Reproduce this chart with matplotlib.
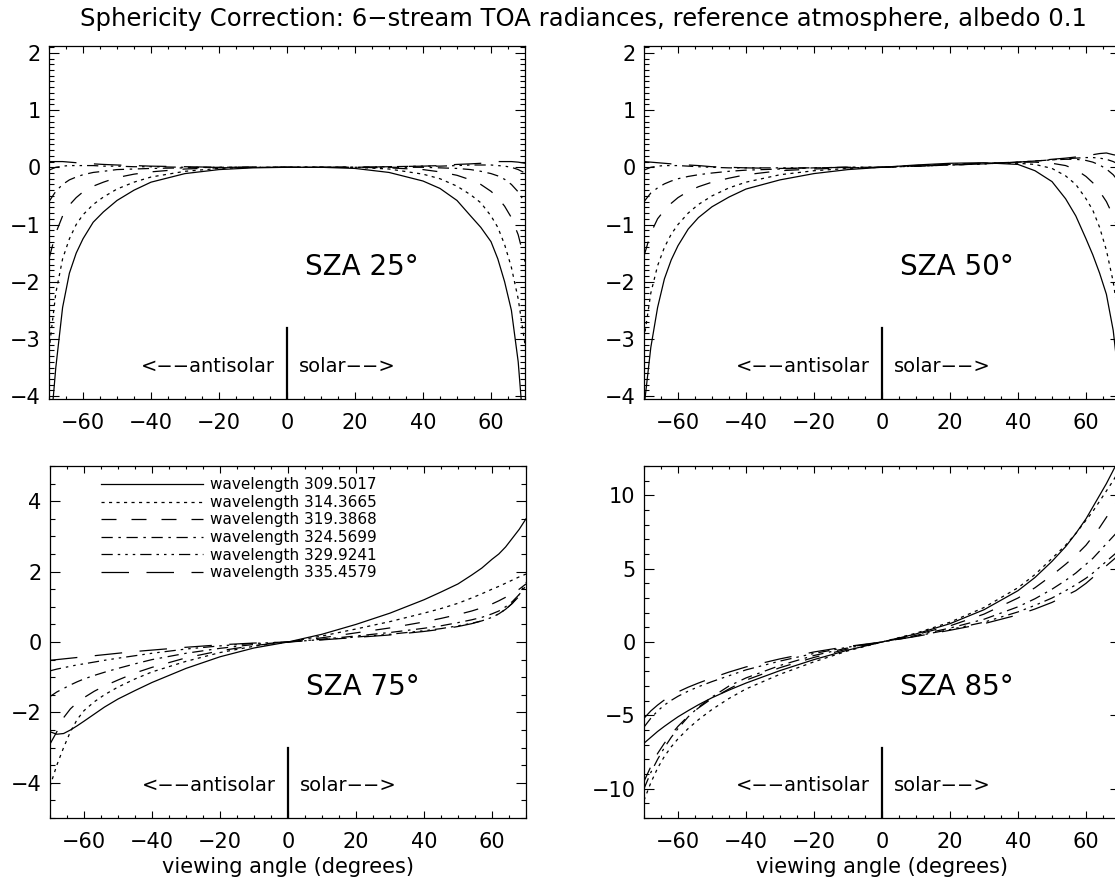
import matplotlib
matplotlib.use("Agg")
import matplotlib.pyplot as plt
from matplotlib.ticker import MultipleLocator

# viewing angles (degrees), negative = antisolar side
angles = [-70, -68, -66, -64, -62, -60, -57, -54, -50, -45, -40, -30, -20, -10, 0,
          10, 20, 30, 40, 45, 50, 54, 57, 60, 62, 64, 66, 68, 70]

wavelengths = ["309.5017", "314.3665", "319.3868", "324.5699", "329.9241", "335.4579"]
sza_labels = ["25", "50", "75", "85"]

# sphericity correction, one row per wavelength
sza25 = [
    [-4.9, -3.5, -2.45, -1.85, -1.5, -1.25, -0.96, -0.78, -0.58, -0.4, -0.26, -0.11, -0.04, -0.01, 0,
     0, -0.02, -0.09, -0.24, -0.37, -0.58, -0.85, -1.05, -1.3, -1.6, -2.0, -2.5, -3.4, -4.9],
    [-3.2, -2.2, -1.6, -1.25, -1.0, -0.83, -0.65, -0.52, -0.38, -0.26, -0.17, -0.07, -0.02, 0, 0,
     0, 0, -0.03, -0.12, -0.2, -0.33, -0.48, -0.62, -0.85, -1.05, -1.35, -1.75, -2.3, -3.1],
    [-1.6, -1.15, -0.85, -0.66, -0.53, -0.43, -0.33, -0.26, -0.18, -0.12, -0.08, -0.03, -0.01, 0, 0,
     0, 0, -0.01, -0.04, -0.08, -0.14, -0.22, -0.3, -0.42, -0.53, -0.68, -0.88, -1.18, -1.65],
    [-0.6, -0.42, -0.3, -0.22, -0.17, -0.13, -0.09, -0.07, -0.04, -0.03, -0.02, -0.01, 0, 0, 0,
     0, 0, 0, 0, -0.01, -0.02, -0.04, -0.07, -0.11, -0.15, -0.21, -0.3, -0.43, -0.62],
    [-0.05, 0.0, 0.02, 0.03, 0.03, 0.03, 0.03, 0.02, 0.02, 0.01, 0.01, 0, 0, 0, 0,
     0, 0, 0.01, 0.02, 0.02, 0.03, 0.04, 0.04, 0.04, 0.03, 0.02, 0.0, -0.04, -0.1],
    [0.1, 0.1, 0.1, 0.09, 0.08, 0.07, 0.06, 0.05, 0.04, 0.03, 0.02, 0.01, 0, 0, 0,
     0, 0, 0.01, 0.02, 0.03, 0.05, 0.06, 0.07, 0.09, 0.1, 0.1, 0.1, 0.09, 0.07],
]
sza50 = [
    [-4.2, -3.15, -2.45, -1.95, -1.62, -1.37, -1.08, -0.88, -0.69, -0.52, -0.38, -0.22, -0.11, -0.04, 0,
     0.04, 0.07, 0.08, 0.05, -0.06, -0.25, -0.55, -0.85, -1.25, -1.53, -1.85, -2.22, -2.85, -3.9],
    [-3.0, -2.2, -1.72, -1.4, -1.17, -1.0, -0.8, -0.65, -0.5, -0.36, -0.26, -0.13, -0.06, -0.02, 0,
     0.03, 0.05, 0.07, 0.07, 0.05, -0.02, -0.15, -0.3, -0.55, -0.75, -1.05, -1.45, -2.0, -2.8],
    [-1.55, -1.15, -0.9, -0.75, -0.63, -0.53, -0.42, -0.34, -0.26, -0.19, -0.13, -0.06, -0.03, -0.01, 0,
     0.03, 0.05, 0.07, 0.09, 0.09, 0.07, 0.03, -0.04, -0.16, -0.27, -0.42, -0.6, -0.85, -1.2],
    [-0.6, -0.45, -0.36, -0.29, -0.24, -0.2, -0.16, -0.13, -0.1, -0.07, -0.05, -0.03, -0.01, 0, 0,
     0.02, 0.04, 0.06, 0.09, 0.11, 0.13, 0.14, 0.14, 0.12, 0.09, 0.04, -0.03, -0.13, -0.28],
    [-0.05, 0.0, 0.02, 0.03, 0.03, 0.03, 0.02, 0.01, 0.0, -0.01, -0.01, -0.01, -0.01, 0, 0,
     0.02, 0.04, 0.06, 0.09, 0.11, 0.13, 0.15, 0.16, 0.17, 0.17, 0.16, 0.14, 0.1, 0.04],
    [0.1, 0.09, 0.08, 0.07, 0.06, 0.05, 0.04, 0.03, 0.01, 0.0, -0.01, -0.02, -0.01, 0, 0,
     0.02, 0.04, 0.06, 0.09, 0.11, 0.14, 0.16, 0.18, 0.2, 0.22, 0.24, 0.25, 0.22, 0.2],
]
sza75 = [
    [-2.55, -2.62, -2.6, -2.5, -2.38, -2.25, -2.05, -1.85, -1.62, -1.38, -1.15, -0.75, -0.42, -0.17, 0,
     0.22, 0.5, 0.82, 1.2, 1.42, 1.65, 1.9, 2.1, 2.35, 2.5, 2.7, 2.95, 3.2, 3.5],
    [-4.1, -3.5, -3.0, -2.55, -2.2, -1.95, -1.7, -1.5, -1.28, -1.05, -0.85, -0.55, -0.3, -0.12, 0,
     0.17, 0.37, 0.58, 0.82, 0.95, 1.1, 1.25, 1.37, 1.5, 1.58, 1.67, 1.76, 1.85, 1.93],
    [-2.9, -2.55, -2.15, -1.9, -1.72, -1.58, -1.4, -1.25, -1.08, -0.88, -0.72, -0.45, -0.25, -0.1, 0,
     0.12, 0.26, 0.4, 0.57, 0.67, 0.78, 0.88, 0.97, 1.08, 1.17, 1.27, 1.38, 1.5, 1.65],
    [-1.55, -1.42, -1.32, -1.22, -1.13, -1.05, -0.95, -0.86, -0.75, -0.62, -0.5, -0.32, -0.18, -0.07, 0,
     0.08, 0.17, 0.27, 0.39, 0.46, 0.55, 0.63, 0.7, 0.8, 0.88, 1.0, 1.15, 1.35, 1.7],
    [-0.82, -0.77, -0.73, -0.69, -0.65, -0.62, -0.57, -0.52, -0.46, -0.39, -0.32, -0.2, -0.11, -0.04, 0,
     0.07, 0.14, 0.22, 0.32, 0.38, 0.46, 0.53, 0.6, 0.7, 0.8, 0.93, 1.1, 1.35, 1.6],
    [-0.52, -0.5, -0.48, -0.46, -0.44, -0.42, -0.39, -0.36, -0.32, -0.27, -0.23, -0.15, -0.08, -0.03, 0,
     0.06, 0.13, 0.2, 0.3, 0.36, 0.44, 0.52, 0.6, 0.7, 0.8, 0.93, 1.1, 1.3, 1.55],
]
sza85 = [
    [-6.9, -6.5, -6.1, -5.75, -5.42, -5.1, -4.68, -4.28, -3.8, -3.28, -2.8, -1.95, -1.2, -0.55, 0,
     0.55, 1.25, 2.2, 3.5, 4.4, 5.5, 6.5, 7.4, 8.4, 9.2, 10.0, 10.8, 11.7, 12.6],
    [-10.8, -9.6, -8.6, -7.8, -7.15, -6.6, -5.9, -5.3, -4.6, -3.85, -3.2, -2.2, -1.35, -0.6, 0,
     0.6, 1.35, 2.35, 3.7, 4.6, 5.7, 6.6, 7.4, 8.3, 8.9, 9.6, 10.3, 11.0, 11.8],
    [-9.5, -8.5, -7.6, -6.9, -6.3, -5.75, -5.05, -4.5, -3.85, -3.2, -2.6, -1.75, -1.05, -0.47, 0,
     0.5, 1.1, 1.9, 3.0, 3.7, 4.55, 5.3, 5.9, 6.6, 7.2, 7.8, 8.5, 9.2, 9.9],
    [-10.0, -8.9, -8.0, -7.2, -6.5, -5.9, -5.1, -4.45, -3.75, -3.0, -2.45, -1.6, -0.92, -0.4, 0,
     0.45, 0.95, 1.55, 2.4, 2.95, 3.6, 4.2, 4.7, 5.3, 5.7, 6.2, 6.7, 7.2, 7.7],
    [-5.8, -5.2, -4.7, -4.3, -3.98, -3.7, -3.35, -3.05, -2.7, -2.3, -1.9, -1.3, -0.78, -0.35, 0,
     0.4, 0.85, 1.35, 2.05, 2.5, 3.0, 3.5, 3.9, 4.35, 4.7, 5.1, 5.5, 5.9, 6.3],
    [-5.2, -4.7, -4.3, -3.95, -3.65, -3.4, -3.08, -2.8, -2.45, -2.05, -1.7, -1.15, -0.68, -0.3, 0,
     0.38, 0.8, 1.25, 1.85, 2.25, 2.7, 3.15, 3.5, 4.0, 4.4, 4.8, 5.2, 5.6, 6.0],
]

# IDL-like linestyles: solid, dotted, dashed, dash-dot, dash-dot-dot-dot, long dashes
styles = ["-", (0, (2.5, 3.5)), (0, (12, 12)), (0, (9, 4.5, 2, 4.5)),
          (0, (9, 4, 2, 4, 2, 4, 2, 4)), (0, (22, 14))]

plt.rcParams["font.family"] = ["DejaVu Sans"]
fig = plt.figure(figsize=(11.15, 8.86), dpi=100)

W, H = 1115.0, 886.0
boxes = [(49, 46, 476, 353), (644, 46, 476, 353),
         (50, 466, 476, 352), (644, 466, 476, 352)]
panels = [sza25, sza50, sza75, sza85]
ylims = [(-4.05, 2.12), (-4.05, 2.12), (-5, 5), (-12, 12)]
ymajor = [1, 1, 2, 5]
yminor = [0.1, 0.1, 0.5, 1]

for i in range(4):
    x0, y0, w, h = boxes[i]
    ax = fig.add_axes([x0 / W, 1 - (y0 + h) / H, w / W, h / H])
    for j, vals in enumerate(panels[i]):
        ax.plot(angles, vals, color="black", lw=0.9, linestyle=styles[j],
                label="wavelength " + wavelengths[j])
    ax.set_xlim(-70, 70)
    ax.set_ylim(*ylims[i])
    ax.xaxis.set_major_locator(MultipleLocator(20))
    ax.xaxis.set_minor_locator(MultipleLocator(5))
    ax.yaxis.set_major_locator(MultipleLocator(ymajor[i]))
    ax.yaxis.set_minor_locator(MultipleLocator(yminor[i]))
    ax.tick_params(which="both", direction="in", top=True, right=True,
                   labelsize=15, width=0.8)
    ax.tick_params(axis="x", which="major", length=5, pad=10)
    ax.tick_params(axis="x", which="minor", length=2.5)
    ax.tick_params(axis="y", which="major", length=7, pad=6)
    ax.tick_params(axis="y", which="minor", length=3.5)
    for s in ax.spines.values():
        s.set_linewidth(0.9)

    ax.axvline(0, ymin=0, ymax=0.2, color="black", lw=1.6)
    ax.text(-3.5, 0.093, "<\u2212\u2212antisolar", transform=ax.get_xaxis_transform(),
            ha="right", va="center", fontsize=14)
    ax.text(3.5, 0.093, "solar\u2212\u2212>", transform=ax.get_xaxis_transform(),
            ha="left", va="center", fontsize=14)
    ax.text(0.538, 0.373, "SZA " + sza_labels[i] + "\u00b0", transform=ax.transAxes,
            ha="left", va="center", fontsize=20)

    if i >= 2:
        ax.set_xlabel("viewing angle (degrees)", fontsize=15, labelpad=4)
    if i == 2:
        ax.legend(loc="upper left", bbox_to_anchor=(0.107, 0.968), frameon=False,
                  fontsize=11, handlelength=6.7, handletextpad=0.45,
                  labelspacing=0.17, borderpad=0, borderaxespad=0)

fig.text(0.523, 0.979, "Sphericity Correction: 6\u2212stream TOA radiances, reference atmosphere, albedo 0.1",
         ha="center", va="center", fontsize=17.5)

fig.savefig("out.png", dpi=100)
